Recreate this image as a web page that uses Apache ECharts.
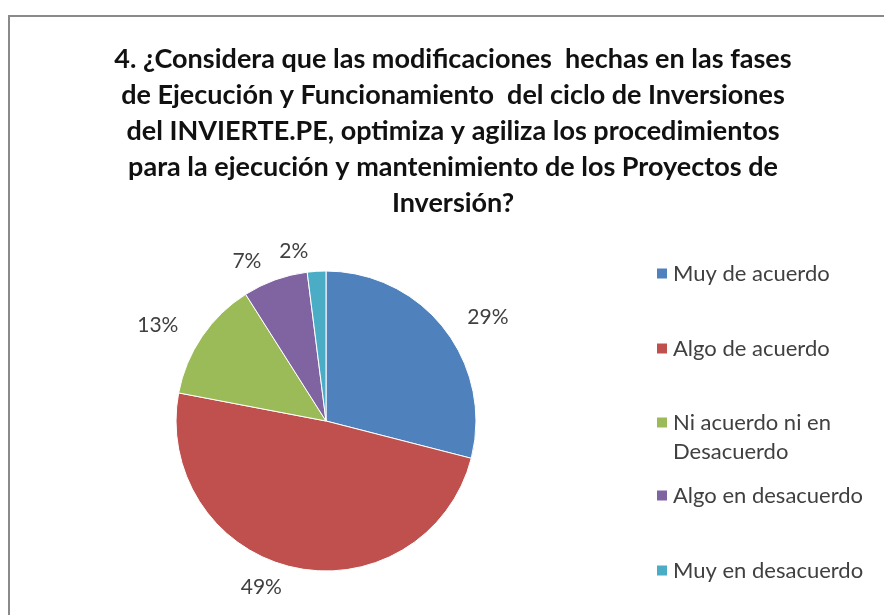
<!DOCTYPE html>
<html>
<head>
<meta charset="utf-8">
<script src="https://cdn.jsdelivr.net/npm/echarts@6/dist/echarts.min.js"></script>
<style>
  html, body { margin: 0; padding: 0; background: #fff; }
  #chart { width: 884px; height: 615px; }
</style>
</head>
<body>
<div id="chart"></div>
<script>
const categories = [
  "Muy de acuerdo",
  "Algo de acuerdo",
  "Ni acuerdo ni en\nDesacuerdo",
  "Algo en desacuerdo",
  "Muy en desacuerdo",
];
const values = [29, 49, 13, 7, 2];
const colors = ["#4F81BD", "#C0504D", "#9BBB59", "#8064A2", "#4BACC6"];
// legend rows: top of each legend box
const legendTops = [259, 334, 379, 481, 556];

const titleText =
  "4. ¿Considera que las modificaciones  hechas en las fases\n" +
  "de Ejecución y Funcionamiento  del ciclo de Inversiones\n" +
  "del INVIERTE.PE, optimiza y agiliza los procedimientos\n" +
  "para la ejecución y mantenimiento de los Proyectos de\n" +
  "Inversión?";

const chart = echarts.init(document.getElementById("chart"));

const legends = categories.map((name, i) => {
  const multi = name.indexOf("\n") >= 0;
  return {
    data: [name],
    orient: "vertical",
    left: 655,
    top: legendTops[i],
    padding: 0,
    icon: "rect",
    itemWidth: 12,
    itemHeight: 12,
    selectedMode: false,
    // leading blank line keeps the marker level with the first text line
    formatter: multi ? (n) => "\n" + n : undefined,
    textStyle: {
      fontFamily: "Lato",
      fontSize: 22,
      color: "#404040",
      lineHeight: 29,
    },
  };
});

const option = {
  backgroundColor: "#fff",
  color: colors,
  title: {
    text: titleText,
    left: 448,
    textAlign: "center",
    top: 36,
    textStyle: {
      fontFamily: "Lato",
      fontWeight: "bold",
      fontSize: 27,
      lineHeight: 36,
      color: "#111",
    },
  },
  graphic: [
    {
      type: "rect",
      shape: { x: 9, y: 16, width: 1000, height: 1000 },
      style: { fill: "none", stroke: "#8a8a8a", lineWidth: 2 },
      silent: true,
    },
  ],
  legend: legends,
  series: [
    {
      type: "pie",
      center: [326, 421],
      radius: 150,
      startAngle: 90,
      clockwise: true,
      animation: false,
      avoidLabelOverlap: false,
      data: categories.map((name, i) => ({ name: name, value: values[i] })),
      itemStyle: { borderColor: "#fff", borderWidth: 1 },
      label: {
        show: true,
        position: "outside",
        formatter: (p) => p.value + "%",
        fontFamily: "Lato",
        fontSize: 21,
        color: "#404040",
      },
      labelLine: { show: false, length: 20, length2: 2 },
      emphasis: { disabled: true },
    },
  ],
};

chart.setOption(option);
</script>
</body>
</html>
